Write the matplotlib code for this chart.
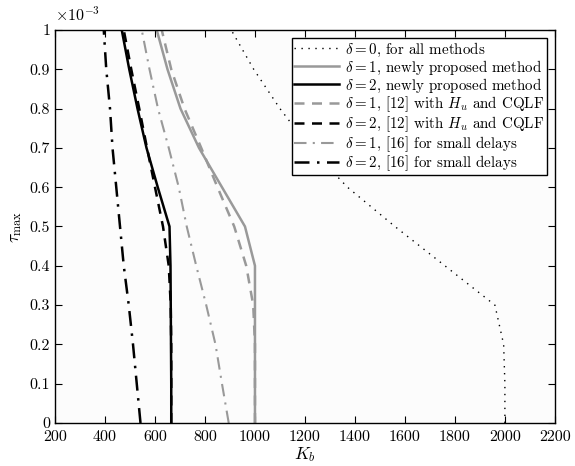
import numpy as np
import matplotlib
matplotlib.use('Agg')
import matplotlib.pyplot as plt
from matplotlib.ticker import MultipleLocator, FormatStrFormatter

# tau_max in units of 1e-3
tau = [0, 0.1, 0.2, 0.3, 0.4, 0.5, 0.6, 0.7, 0.8, 0.9, 1.0]

# K_b values, one per tau
kb_d0_all = [2000, 2000, 1995, 1960, 1760, 1560, 1370, 1220, 1100, 995, 905]
kb_d1_new = [1000, 1000, 1000, 1000, 1000, 960, 868, 776, 702, 650, 607]
kb_d2_new = [665, 665, 664, 663, 662, 658, 611, 566, 530, 497, 467]
kb_d1_ref12 = [1000, 1000, 1000, 993, 965, 917, 850, 785, 718, 665, 627]
kb_d2_ref12 = [665, 665, 665, 663, 655, 632, 600, 568, 537, 505, 475]
kb_d1_ref16 = [895, 868, 842, 805, 765, 727, 695, 655, 612, 578, 547]
kb_d2_ref16 = [542, 527, 512, 495, 475, 460, 445, 430, 420, 405, 395]

labels = [r'$\delta=0$, for all methods',
          r'$\delta=1$, newly proposed method',
          r'$\delta=2$, newly proposed method',
          r'$\delta=1$, [12] with $H_u$ and CQLF',
          r'$\delta=2$, [12] with $H_u$ and CQLF',
          r'$\delta=1$, [16] for small delays',
          r'$\delta=2$, [16] for small delays']

plt.rcParams.update({
    'font.family': 'serif',
    'font.serif': ['cmr10', 'DejaVu Serif'],
    'mathtext.fontset': 'cm',
    'axes.unicode_minus': False,
    'font.size': 11,
})

grey = '#999999'

fig = plt.figure(figsize=(5.75, 4.66), dpi=100)
ax = fig.add_axes([0.0957, 0.0923, 0.8693, 0.8433])
ax.set_facecolor('#fcfcfc')

ax.plot(kb_d0_all, tau, color='black', lw=1.0, linestyle=(0, (1, 4)), label=labels[0])
ax.plot(kb_d1_new, tau, color=grey, lw=1.8, linestyle='-', label=labels[1])
ax.plot(kb_d2_new, tau, color='black', lw=1.8, linestyle='-', label=labels[2])
ax.plot(kb_d1_ref12, tau, color=grey, lw=1.8, linestyle=(0, (4, 3)), label=labels[3])
ax.plot(kb_d2_ref12, tau, color='black', lw=1.8, linestyle=(0, (4, 3)), label=labels[4])
ax.plot(kb_d1_ref16, tau, color=grey, lw=1.5, linestyle=(0, (6, 3, 1, 3)), label=labels[5])
ax.plot(kb_d2_ref16, tau, color='black', lw=1.8, linestyle=(0, (6, 3, 1, 3)), label=labels[6])

ax.set_xlim(200, 2200)
ax.set_ylim(0, 1)
ax.xaxis.set_major_locator(MultipleLocator(200))
ax.yaxis.set_major_locator(MultipleLocator(0.1))
ax.yaxis.set_major_formatter(FormatStrFormatter('%g'))
ax.tick_params(direction='in', top=True, right=True, length=5, width=0.8, labelsize=11.5)
ax.tick_params(axis='x', pad=5)
for s in ax.spines.values():
    s.set_linewidth(1.0)

ax.set_xlabel(r'$K_b$', fontsize=12.5, labelpad=1)
ax.set_ylabel(r'$\tau_{\mathrm{max}}$', fontsize=12.5)
ax.text(0.0, 1.015, r'$\times10^{-3}$', transform=ax.transAxes,
        ha='left', va='bottom', fontsize=11.5)

leg = ax.legend(loc='upper right', fontsize=10.8, frameon=True, fancybox=False,
                edgecolor='black', framealpha=1, handlelength=3.0,
                labelspacing=0.0, borderpad=0.15, handletextpad=0.4,
                borderaxespad=0.55)
leg.get_frame().set_linewidth(1.0)

fig.savefig('out.png', dpi=100, facecolor='white')
